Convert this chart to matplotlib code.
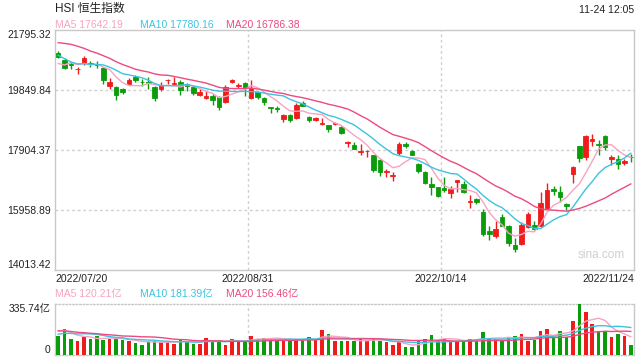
import numpy as np
import pandas as pd
import matplotlib
matplotlib.use("Agg")
import matplotlib.pyplot as plt

plt.rcParams['font.family'] = ['Liberation Sans', 'Noto Sans CJK SC']

# === Dane: HSI 2022/07/20 - 2022/11/24 (dzienne) ===
opens = [
    21039, 20812, 20682, 20500, 20704, 20704, 20682, 20542, 19979, 19925,
    19871, 20034, 20271, 20109, 20088, 19925, 19871, 20142, 20034, 20109,
    20012, 19925, 19677, 19569, 19655, 19601, 19439, 20109, 19979, 20066,
    19580, 19763, 19569, 19277, 19255, 18899, 19039, 18920, 19417, 18953,
    18866, 18726, 18683, 18726, 18629, 18100, 18056, 17818, 17840, 17710,
    17580, 17190, 17060, 17790, 18090, 17840, 17440, 17191, 16790, 16683,
    16662, 16480, 16860, 16791, 16210, 16305, 15894, 15250, 15084, 15710,
    15440, 14800, 14840, 15380, 15470, 15420, 16013, 16629, 16540, 16140,
    17115, 18002, 17677, 18170, 18090, 18326, 17602, 17602, 17470, 17677,
]
highs = [
    21114, 20866, 20736, 20574, 20931, 20758, 20758, 20574, 20228, 19958,
    19893, 20217, 20304, 20196, 20250, 19958, 20088, 20196, 20239, 20142,
    20055, 19979, 19871, 19817, 19709, 19623, 20001, 20196, 20066, 20088,
    20142, 19817, 19601, 19290, 19331, 19061, 19061, 19417, 19490, 18985,
    18974, 18920, 18704, 18812, 18660, 18190, 18142, 18088, 17872, 17732,
    17600, 17278, 17170, 18140, 18142, 17872, 17460, 17210, 17007, 16700,
    17007, 16737, 16930, 16899, 16413, 16337, 15981, 15440, 15570, 15818,
    15460, 15050, 15550, 15880, 15600, 16540, 16824, 16716, 16737, 16164,
    17364, 18034, 18360, 18412, 18200, 18380, 17732, 17732, 17602, 17764,
]
lows = [
    20866, 20500, 20520, 20358, 20650, 20574, 20542, 20034, 19871, 19515,
    19698, 20001, 20088, 19979, 19871, 19461, 19785, 20034, 20012, 19677,
    19817, 19677, 19655, 19547, 19353, 19191, 19417, 20066, 19893, 19655,
    19547, 19526, 19353, 19093, 19115, 18812, 18791, 18899, 19299, 18791,
    18823, 18704, 18488, 18683, 18420, 17990, 17915, 17710, 17656, 17191,
    17040, 17007, 16899, 17710, 17950, 17710, 17150, 16791, 16413, 16370,
    16521, 16326, 16521, 16500, 16013, 16143, 15094, 14954, 15030, 15419,
    14770, 14597, 14820, 15350, 15280, 15410, 15980, 16413, 16218, 15927,
    16824, 17515, 17548, 18034, 17710, 17904, 17418, 17278, 17386, 17515,
]
closes = [
    20898, 20542, 20650, 20520, 20866, 20672, 20650, 20174, 20109, 19677,
    19763, 20163, 20163, 20088, 20055, 19580, 20001, 20163, 20066, 19839,
    19979, 19742, 19763, 19623, 19515, 19277, 19947, 20142, 20001, 19904,
    19893, 19601, 19439, 19250, 19225, 19028, 18845, 19353, 19331, 18845,
    18920, 18750, 18553, 18748, 18445, 18147, 17926, 17855, 17860, 17250,
    17165, 17222, 17079, 18088, 18012, 17740, 17216, 16832, 16701, 16389,
    16587, 16612, 16914, 16511, 16250, 16211, 15180, 15165, 15317, 15427,
    14863, 14687, 15455, 15827, 15339, 16161, 16596, 16557, 16358, 16081,
    17325, 17619, 18343, 18256, 18045, 17993, 17655, 17424, 17523, 17650,
]
# obroty w 亿
volumes = [
    123, 175, 107, 90, 119, 107, 128, 101, 107, 107,
    101, 94, 81, 67, 96, 94, 83, 83, 74, 107,
    96, 76, 74, 112, 94, 101, 67, 107, 94, 94,
    128, 105, 112, 107, 107, 107, 90, 101, 101, 119,
    101, 168, 141, 90, 94, 90, 90, 105, 94, 112,
    96, 83, 63, 83, 51, 51, 96, 107, 134, 96,
    107, 94, 94, 90, 105, 90, 152, 112, 105, 101,
    116, 128, 141, 94, 101, 161, 175, 116, 157, 116,
    228, 335.74, 284, 208, 161, 157, 116, 141, 123, 67,
]
# sesje przed oknem wykresu - potrzebne tylko do srednich MA
prior_close = [21008, 21273, 21719, 22230, 22418, 21996, 21859, 21830, 21853, 21586,
               21643, 21725, 21124, 20844, 20797, 20751, 20297, 20846, 20661]
prior_volume = [190, 175, 200, 170, 185, 180, 195, 165, 175, 185,
                120, 110, 125, 105, 120, 160, 175, 180, 162]

price_ticks = [21795.32, 19849.84, 17904.37, 15958.89, 14013.42]
vol_top = 335.74
date_labels = ["2022/07/20", "2022/08/31", "2022/10/14", "2022/11/24"]
ma_windows = [5, 10, 20]
# wartosci z legendy (ostatnia sesja)
ma_price_last = [17642.19, 17780.16, 16786.38]
ma_vol_last = [120.21, 181.39, 156.46]

RED = '#f01c1c'
GREEN = '#0b9c0b'
MA_COLORS = {5: '#f7a3c4', 10: '#3cc3df', 20: '#ec4a80'}
FRAME = '#c8c8c8'
GRID = '#d0d0d0'
TXT = '#222222'

# === Srednie kroczace ===
close_all = pd.Series(prior_close + closes, dtype=float)
vol_all = pd.Series(prior_volume + volumes, dtype=float)
n_prior = len(prior_close)
ma_price = {n: close_all.rolling(n).mean().to_numpy()[n_prior:] for n in ma_windows}
ma_vol = {n: vol_all.rolling(n).mean().to_numpy()[n_prior:] for n in ma_windows}

o = np.array(opens, float)
h = np.array(highs, float)
l = np.array(lows, float)
c = np.array(closes, float)
x = np.arange(len(c))
colors = np.where(c >= o, RED, GREEN)

W, H = 640, 360
fig = plt.figure(figsize=(W / 100, H / 100), dpi=100)


def fx(px):
    return px / W


def fy(py):
    return 1 - py / H


ax = fig.add_axes([fx(55), fy(269.5), 579 / W, 240 / H])
axv = fig.add_axes([fx(55), fy(355), 579 / W, 50.7 / H])

# === Swiece ===
ax.vlines(x, l, h, colors=colors, linewidth=1, zorder=3)
ax.bar(x, np.abs(c - o), bottom=np.minimum(o, c), width=0.7, color=colors,
       edgecolor=colors, linewidth=0.6, zorder=3)
for n in ma_windows:
    ax.plot(x, ma_price[n], color=MA_COLORS[n], linewidth=1, zorder=4)

xmin, xmax = -0.5, len(c) - 0.5
ax.set_xlim(xmin, xmax)
ax.set_ylim(price_ticks[-1], price_ticks[0])
ax.set_yticks(price_ticks)
ax.set_yticklabels([f"{v:.2f}" for v in price_ticks])
ylabels = ax.get_yticklabels()
ylabels[0].set_va('top')
ylabels[-1].set_va('bottom')

span = xmax - xmin
grid_x = [xmin + span / 3, xmin + 2 * span / 3]
ax.set_xticks([xmin] + grid_x + [xmax])
ax.set_xticklabels(date_labels)
xlabels = ax.get_xticklabels()
xlabels[0].set_ha('left')
xlabels[-1].set_ha('right')
ax.tick_params(axis='both', length=0, labelsize=7.5, labelcolor=TXT)
ax.tick_params(axis='y', pad=3)
ax.tick_params(axis='x', pad=3)

for v in price_ticks[1:-1]:
    ax.axhline(v, color=GRID, linewidth=1, linestyle=(0, (2, 2)), zorder=1)
for gx in grid_x:
    ax.axvline(gx, color=GRID, linewidth=1, linestyle=(0, (2, 2)), zorder=1)
for s in ax.spines.values():
    s.set_color(FRAME)
    s.set_linewidth(1)

ax.text(0.985, 0.06, "sina.com", transform=ax.transAxes, ha='right', va='center',
        fontsize=8.5, color='#cfcfcf')

# === Wolumen ===
axv.bar(x, volumes, width=0.55, color=colors, zorder=3)
for n in ma_windows:
    axv.plot(x, ma_vol[n], color=MA_COLORS[n], linewidth=1, zorder=4)
axv.set_xlim(xmin, xmax)
axv.set_ylim(0, vol_top)
axv.set_xticks([])
axv.set_yticks([vol_top, 0])
axv.set_yticklabels([f"{vol_top:.2f}亿", "0"])
vlabels = axv.get_yticklabels()
vlabels[0].set_va('top')
vlabels[1].set_va('bottom')
axv.tick_params(axis='y', length=0, labelsize=7.5, labelcolor=TXT, pad=3)
for gx in grid_x:
    axv.axvline(gx, color=GRID, linewidth=1, linestyle=(0, (2, 2)), zorder=1)
for name, s in axv.spines.items():
    s.set_color(FRAME)
    s.set_linewidth(1)
    if name in ('top', 'bottom'):
        s.set_linestyle((0, (1, 1.5)))

# === Teksty ===
fig.text(fx(55), fy(8.5), "HSI 恒生指数", fontsize=8.5, color=TXT, ha='left', va='center')
fig.text(fx(634), fy(10), "11-24 12:05", fontsize=7.5, color=TXT, ha='right', va='center')

legend_x = [55, 140.5, 225.5]
for n, lx, mp, mv in zip(ma_windows, legend_x, ma_price_last, ma_vol_last):
    fig.text(fx(lx), fy(24.5), f"MA{n} {mp:.2f}",
             fontsize=7.5, color=MA_COLORS[n], ha='left', va='center')
    fig.text(fx(lx), fy(294), f"MA{n} {mv:.2f}亿",
             fontsize=7.5, color=MA_COLORS[n], ha='left', va='center')

fig.savefig("out.png", dpi=100, facecolor='white')
